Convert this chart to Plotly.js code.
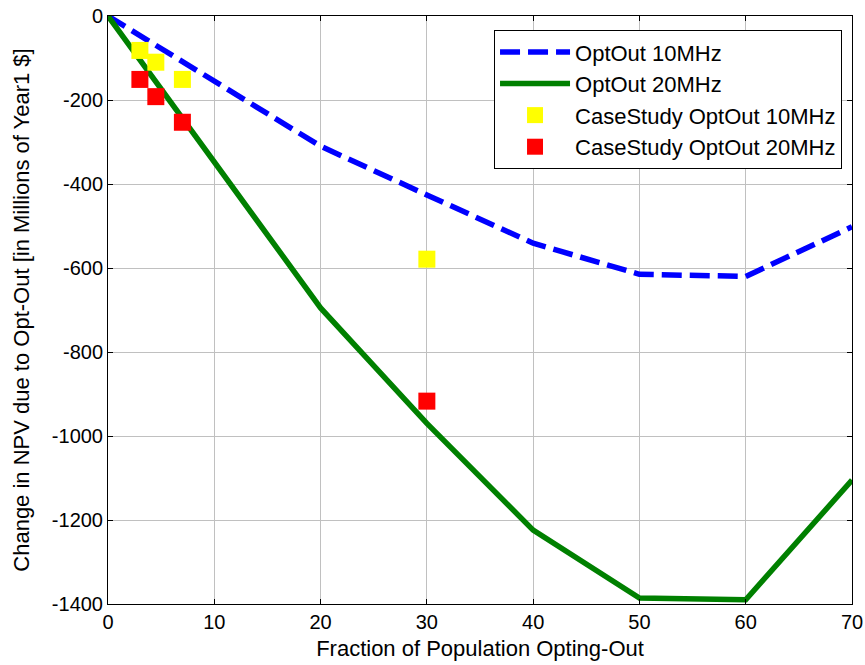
<!DOCTYPE html>
<html>
<head>
<meta charset="utf-8">
<script src="https://cdn.plot.ly/plotly-3.0.1.min.js"></script>
<style>html,body{margin:0;padding:0;background:#fff;}#chart{width:865px;height:665px;}</style>
</head>
<body>
<div id="chart"></div>
<script>
var fraction = [0, 10, 20, 30, 40, 50, 60, 70];
var optOut10 = [0, -155, -310, -426, -541, -615, -620, -502];
var optOut20 = [0, -348, -695, -970, -1224, -1386, -1390, -1105];
var caseX = [3, 4.5, 7, 30];
var case10 = [-82, -110, -151, -579];
var case20 = [-151, -192, -253, -917];
var xTicks = [0, 10, 20, 30, 40, 50, 60, 70];
var yTicks = [0, -200, -400, -600, -800, -1000, -1200, -1400];

var FONT = 'Liberation Sans, Arial, sans-serif';

var traces = [
  {x: fraction, y: optOut10, name: 'OptOut 10MHz', mode: 'lines',
   line: {color: '#0000ff', width: 5.5, dash: '20px,8px'}},
  {x: fraction, y: optOut20, name: 'OptOut 20MHz', mode: 'lines',
   line: {color: '#008000', width: 5.5}},
  {x: caseX, y: case10, name: 'CaseStudy OptOut 10MHz', mode: 'markers',
   marker: {symbol: 'square', color: '#ffff00', size: 17, line: {width: 0}}},
  {x: caseX, y: case20, name: 'CaseStudy OptOut 20MHz', mode: 'markers',
   marker: {symbol: 'square', color: '#ff0000', size: 17, line: {width: 0}}}
];

var axisCommon = {
  showline: true, linecolor: '#000', linewidth: 1, mirror: 'ticks',
  ticks: 'inside', ticklen: 5, tickcolor: '#000',
  showgrid: true, gridcolor: '#c0c0c0', gridwidth: 1,
  zeroline: false,
  tickfont: {family: FONT, size: 20, color: '#000'}
};

var layout = {
  width: 865, height: 665,
  margin: {l: 108, r: 13, t: 16, b: 61},
  paper_bgcolor: '#fff', plot_bgcolor: '#fff',
  font: {family: FONT, color: '#000'},
  xaxis: Object.assign({}, axisCommon, {
    range: [0, 70], tickvals: xTicks, ticktext: xTicks.map(String),
    title: {text: 'Fraction of Population Opting-Out', font: {family: FONT, size: 22, color: '#000'}, standoff: 8}
  }),
  yaxis: Object.assign({}, axisCommon, {
    range: [-1400, 0], tickvals: yTicks, ticktext: yTicks.map(String),
    title: {text: 'Change in NPV due to Opt-Out [in Millions of Year1 $]', font: {family: FONT, size: 22, color: '#000'}, standoff: 16}
  }),
  showlegend: true,
  legend: {
    x: 0.9866, y: 0.976, xanchor: 'right', yanchor: 'top',
    bgcolor: '#fff', bordercolor: '#000', borderwidth: 1,
    font: {family: FONT, size: 22, color: '#000'},
    itemwidth: 70, tracegroupgap: 0
  }
};

Plotly.newPlot('chart', traces, layout, {displayModeBar: false, staticPlot: true});
</script>
</body>
</html>
